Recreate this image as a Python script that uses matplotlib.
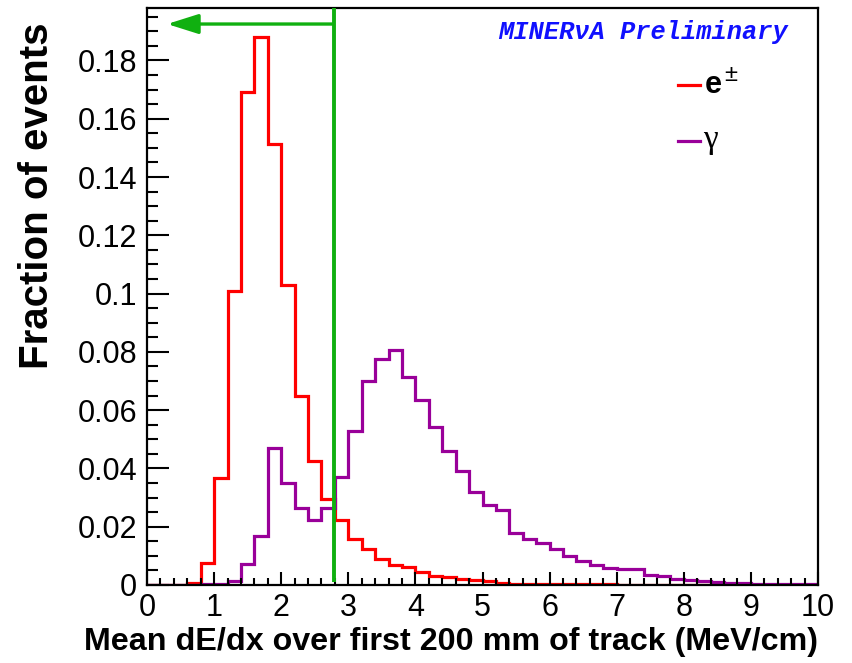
import numpy as np
import matplotlib
matplotlib.use("Agg")
import matplotlib.pyplot as plt
from matplotlib.ticker import MultipleLocator, FixedLocator
from matplotlib.patches import FancyArrowPatch
from matplotlib.lines import Line2D

# Binning: 50 bins of 0.2 MeV/cm from 0 to 10
bin_edges = np.round(np.arange(0.0, 10.0001, 0.2), 3)

# Normalised dE/dx distributions (fraction of events per bin)
electron_frac = [
    0.0, 0.0, 0.0, 0.0008, 0.0076, 0.0366, 0.1009, 0.1693, 0.1881, 0.1514,
    0.1030, 0.0649, 0.0425, 0.0294, 0.0222, 0.0159, 0.0123, 0.0090, 0.0068, 0.0061,
    0.0043, 0.0030, 0.0029, 0.0021, 0.0017, 0.0014, 0.0008, 0.0005, 0.0005, 0.0004,
    0.0003, 0.0002, 0.0002, 0.0002, 0.0002, 0.0001, 0.0001, 0.0001, 0.0001, 0.0001,
    0.0001, 0.0001, 0.0001, 0.0001, 0.0001, 0.0001, 0.0001, 0.0001, 0.0001, 0.0001,
]
photon_frac = [
    0.0, 0.0, 0.0, 0.0001, 0.0002, 0.0003, 0.0014, 0.0071, 0.0169, 0.0470,
    0.0349, 0.0265, 0.0223, 0.0264, 0.0371, 0.0530, 0.0699, 0.0774, 0.0806, 0.0715,
    0.0636, 0.0542, 0.0461, 0.0390, 0.0320, 0.0274, 0.0256, 0.0180, 0.0159, 0.0143,
    0.0123, 0.0100, 0.0083, 0.0068, 0.0060, 0.0056, 0.0056, 0.0034, 0.0030, 0.0020,
    0.0017, 0.0014, 0.0011, 0.0008, 0.0006, 0.0005, 0.0004, 0.0003, 0.0002, 0.0002,
]

# Selection cut on dE/dx
cut_value = 2.78

x_ticks = [0, 1, 2, 3, 4, 5, 6, 7, 8, 9, 10]
y_ticks = [0, 0.02, 0.04, 0.06, 0.08, 0.1, 0.12, 0.14, 0.16, 0.18]
y_tick_labels = ["0", "0.02", "0.04", "0.06", "0.08", "0.1", "0.12", "0.14", "0.16", "0.18"]

x_range = (0, 10)
y_range = (0, 0.198)

RED = "#ff0000"
PURPLE = "#990099"
GREEN = "#10b010"
BLUE = "#1010ff"

plt.rcParams["font.family"] = ["Liberation Sans", "DejaVu Sans"]

fig = plt.figure(figsize=(8.53, 6.63), dpi=100)
ax = fig.add_axes([147 / 853, 1 - 585 / 663, 671 / 853, 577 / 663])

ax.stairs(electron_frac, bin_edges, color=RED, lw=2.3, baseline=0)
ax.stairs(photon_frac, bin_edges, color=PURPLE, lw=2.3, baseline=0)

# Cut line with arrow pointing to the accepted region
ax.plot([cut_value, cut_value], [0.0012, y_range[1]], color=GREEN, lw=2.8,
        solid_capstyle="butt", zorder=5)
arrow = FancyArrowPatch((cut_value - 0.02, 0.1925), (0.3, 0.1925),
                        arrowstyle="-|>,head_length=19,head_width=6",
                        mutation_scale=1, color=GREEN, lw=2.4,
                        shrinkA=0, shrinkB=0, zorder=5)
ax.add_patch(arrow)

ax.set_xlim(*x_range)
ax.set_ylim(*y_range)

ax.xaxis.set_major_locator(FixedLocator(x_ticks))
ax.xaxis.set_minor_locator(MultipleLocator(0.2))
ax.yaxis.set_major_locator(FixedLocator(y_ticks))
ax.yaxis.set_minor_locator(MultipleLocator(0.005))
ax.set_xticklabels([str(t) for t in x_ticks])
ax.set_yticklabels(y_tick_labels)

ax.tick_params(which="both", direction="in", top=False, right=False, width=1.5,
               color="black", labelsize=22)
ax.tick_params(axis="x", which="major", length=9.5, pad=6)
ax.tick_params(axis="x", which="minor", length=4.8)
ax.tick_params(axis="y", which="major", length=16, pad=7)
ax.tick_params(axis="y", which="minor", length=8)

for s in ax.spines.values():
    s.set_linewidth(1.6)
    s.set_color("black")

ax.set_xlabel("Mean dE/dx over first 200 mm of track (MeV/cm)",
              fontsize=23.2, fontweight="bold", ha="right")
ax.xaxis.set_label_coords(1.0, -0.072)
ax.set_ylabel("Fraction of events", fontsize=29, fontweight="bold", ha="right")
ax.yaxis.set_label_coords(-0.135, 0.975)

# Legend entries
ax.add_line(Line2D([0.791, 0.824], [0.8666, 0.8666], transform=ax.transAxes,
                   color=RED, lw=2.3))
ax.add_line(Line2D([0.791, 0.824], [0.7695, 0.7695], transform=ax.transAxes,
                   color=PURPLE, lw=2.3))
ax.text(0.831, 0.8666, "e", transform=ax.transAxes, fontsize=22,
        fontweight="bold", va="center", ha="left")
ax.text(0.861, 0.884, "\u00b1", transform=ax.transAxes, fontsize=17,
        va="center", ha="left")
ax.text(0.829, 0.772, "\u03b3", transform=ax.transAxes, fontsize=24,
        family=["Liberation Serif", "DejaVu Serif"], va="center", ha="left")

ax.text(0.523, 0.958, "MINER\u03bdA Preliminary", transform=ax.transAxes,
        fontsize=18.3, fontweight="bold", fontstyle="italic",
        family=["Liberation Mono", "DejaVu Sans Mono"], color=BLUE,
        va="center", ha="left")

fig.savefig("out.png", dpi=100)
